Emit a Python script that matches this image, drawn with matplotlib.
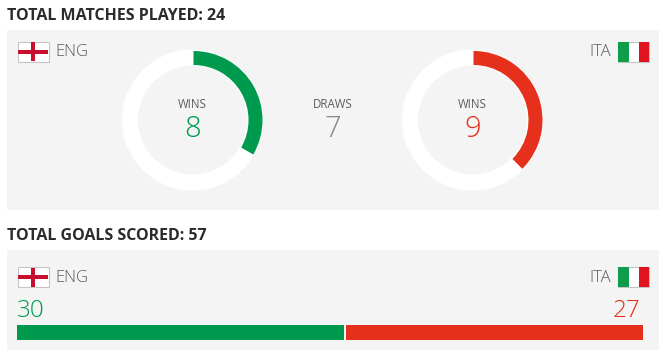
import matplotlib.pyplot as plt
from matplotlib.patches import Rectangle, Wedge

plt.rcParams["font.family"] = ["Open Sans", "DejaVu Sans"]

# Values
teams = ["ENG", "ITA"]
wins = [8, 9]
draws = 7
total_matches = 24
goals = [30, 27]
total_goals = 57

GREEN = "#009a4e"
RED = "#e5301b"
PANEL = "#f4f4f5"
GREY = "#5c5c5c"
DARK = "#2b2b2b"

# The axes run in pixels of the picture, y pointing down
fig = plt.figure(figsize=(6.66, 3.54), dpi=100)
ax = fig.add_axes([0, 0, 1, 1])
ax.set_xlim(0, 666)
ax.set_ylim(354, 0)
ax.axis("off")


def england_flag(x, y):
    ax.add_patch(Rectangle((x, y), 31, 20, fc="white", ec="#c4c4c4", lw=0.8))
    ax.add_patch(Rectangle((x + 0.5, y + 8), 30, 4, fc="#c8102e", lw=0))
    ax.add_patch(Rectangle((x + 13.5, y + 0.5), 4, 19, fc="#c8102e", lw=0))


def italy_flag(x, y):
    ax.add_patch(Rectangle((x, y), 31, 20, fc="white", ec="#c4c4c4", lw=0.8))
    ax.add_patch(Rectangle((x, y), 10.5, 20, fc="#0f9d4b", lw=0))
    ax.add_patch(Rectangle((x + 20.5, y), 10.5, 20, fc="#e0141f", lw=0))


def donut(cx, cy, value, color):
    ax.add_patch(Wedge((cx, cy), 70.5, 0, 360, width=16, fc="white", lw=0))
    # y axis is flipped so angles go clockwise from the x axis
    ax.add_patch(
        Wedge(
            (cx + 1, cy),
            69,
            -90,
            -90 + 360 * value / total_matches,
            width=14,
            fc=color,
            lw=0,
        )
    )
    ax.text(cx, cy - 15.5, "WINS", fontsize=8.3, color=GREY, ha="center", va="center")
    ax.text(cx, cy + 9.5, str(value), fontsize=21, color=color, ha="center", va="center", fontweight="light")


def team_row(y):
    england_flag(17.5, y)
    italy_flag(618, y)
    ax.text(55, y + 10.5, teams[0], fontsize=12, color=GREY, va="center", fontweight="light")
    ax.text(611, y + 10.5, teams[1], fontsize=12, color=GREY, va="center", ha="right", fontweight="light")


# Panels and headings
ax.add_patch(Rectangle((7, 30), 652, 180, fc=PANEL, lw=0))
ax.add_patch(Rectangle((7, 250), 652, 100, fc=PANEL, lw=0))
ax.text(7, 16, f"TOTAL MATCHES PLAYED: {total_matches}", fontsize=11.5, color=DARK, fontweight="bold", va="center")
ax.text(7, 236, f"TOTAL GOALS SCORED: {total_goals}", fontsize=11.5, color=DARK, fontweight="bold", va="center")

team_row(41.5)
donut(192.5, 120, wins[0], GREEN)
donut(472.5, 120, wins[1], RED)
ax.text(333, 104.5, "DRAWS", fontsize=8.3, color=GREY, ha="center", va="center")
ax.text(333, 129.5, str(draws), fontsize=21, color="#8a8a8a", ha="center", va="center", fontweight="light")

# Goals bar
team_row(267)
bar_left = 17
bar_width = 626
split = bar_left + bar_width * goals[0] / total_goals
ax.barh(332.5, split - bar_left - 2, left=bar_left, height=15, color=GREEN, lw=0)
ax.barh(332.5, bar_left + bar_width - split, left=split, height=15, color=RED, lw=0)
ax.text(17, 311, str(goals[0]), fontsize=17.5, color=GREEN, va="center", fontweight="light")
ax.text(640, 311, str(goals[1]), fontsize=17.5, color=RED, va="center", ha="right", fontweight="light")

fig.savefig("out.png", dpi=100)
